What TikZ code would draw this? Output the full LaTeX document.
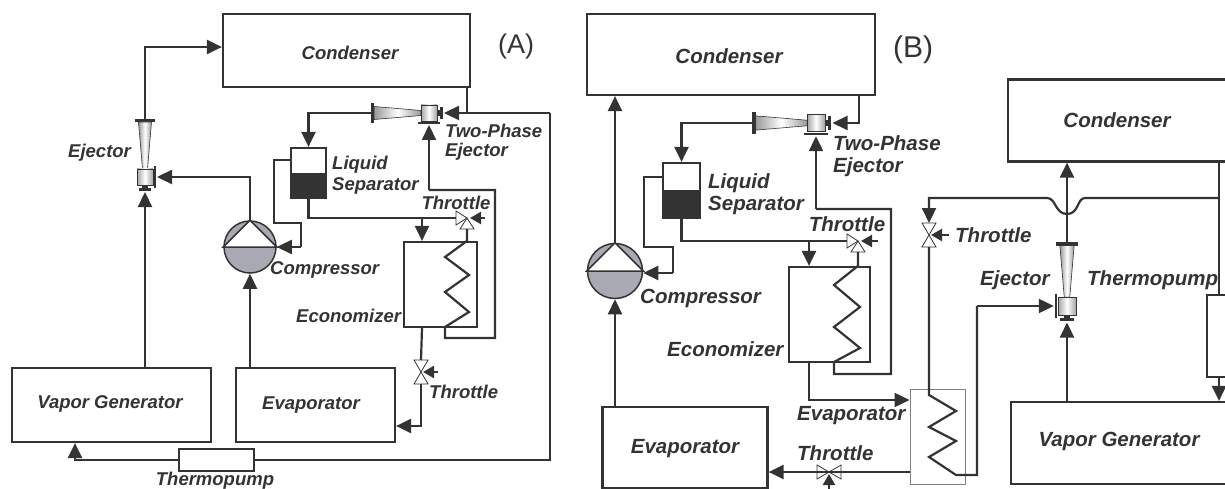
\documentclass[tikz,border=0pt]{standalone}
\usepackage{fontspec}
\setmainfont{Liberation Sans}
\usetikzlibrary{arrows.meta}
\definecolor{linecol}{HTML}{333333}
\definecolor{textcol}{HTML}{333333}
\definecolor{compcol}{HTML}{A9A9B3}
\tikzset{
  box/.style={draw=linecol,line width=2.2pt,rectangle,inner sep=0pt},
  hxbox/.style={draw=gray,line width=.9pt,rectangle,inner sep=0pt},
  compressor/.style={circle,draw=linecol,line width=1.5pt,fill=compcol,inner sep=0pt,minimum size=52pt},
  lbl/.style={font=\fontsize{18.5}{21}\selectfont\bfseries\itshape,text=textcol,inner sep=0pt},
  lblb/.style={font=\fontsize{20.5}{23}\selectfont\bfseries\itshape,text=textcol,inner sep=0pt},
  tag/.style={font=\fontsize{27}{30}\selectfont,text=textcol,inner sep=0pt},
  pipe/.style={draw=linecol,line width=2.2pt},
  flow/.style={pipe,-{Triangle[length=15pt,width=14pt]}},
  ctlflow/.style={pipe,-{Triangle[length=11pt,width=12pt]}},
  vtri/.style={draw=linecol,line width=.8pt,fill=white},
  valve/.pic={
    \draw[vtri] (0,0) -- (-7,-12) -- (7,-12) -- cycle;
    \draw[vtri] (0,0) -- (-7,12) -- (7,12) -- cycle;
    \coordinate (-a) at (0,-12);
    \coordinate (-b) at (0,12);
  },
  tee/.pic={
    \draw[vtri] (0,0) -- (-11,-7) -- (-11,7) -- cycle;
    \draw[vtri] (0,0) -- (-7,11) -- (7,11) -- cycle;
    \coordinate (-left) at (-11,0);
    \coordinate (-down) at (0,11);
  },
  ejector/.pic={
    \fill[linecol] (-10,-58) rectangle (10,-55);
    \shade[left color=gray!80,right color=gray!80,middle color=white,draw=linecol,line width=.6pt]
      (-6.5,-55) -- (6.5,-55) -- (2.5,-8) -- (-2.5,-8) -- cycle;
    \shade[left color=gray!70,right color=gray!70,middle color=white,draw=linecol,line width=.6pt]
      (-8,-8) rectangle (8,8);
    \fill[linecol] (9,-11) rectangle (11,11);
    \fill[linecol] (-3,8) rectangle (3,11);
    \fill[linecol] (-6,11) rectangle (6,14);
    \coordinate (-out) at (0,-58);
    \coordinate (-in) at (0,15);
    \coordinate (-side) at (12,0);
  },
}
\begin{document}
\begin{tikzpicture}[x=1pt,y=-1pt]
    \useasboundingbox (0,0) rectangle (1225,489);
    \clip (0,0) rectangle (1225,489);

    % panel A
    \node[box,minimum width=247,minimum height=73] (condA) at (346.5,50.5) {};
    \node[box,minimum width=199,minimum height=74] (vgA) at (111.5,405) {};
    \node[box,minimum width=159,minimum height=74] (evapA) at (315.5,405) {};
    \node[box,minimum width=75,minimum height=22] (thermoA) at (216.5,460) {};
    \node[box,minimum width=73,minimum height=85] (econA) at (440.5,284.5) {};
    \node[box,minimum width=35,minimum height=50] (sepA) at (308.5,173) {};
    \fill[linecol] (sepA.west) rectangle (sepA.south east);
    \node[compressor] (compA) at (250,247) {};
    \pic (ejA) at (145,177) {ejector};
    \pic (tpA) [rotate=90,xscale=-1] at (429,113) {ejector};
    \pic (teeA) at (467,218) {tee};
    \pic (valveA) at (421,372) {valve};
    \coordinate (ctlA) at (485,218);
    \coordinate (ctlB) at (438,372);

    \draw[flow] (ejA-out) |- ([yshift=3.5pt]condA.west);
    \draw[flow] (145,0 |- vgA.north) -- (ejA-in);
    \draw[flow] (compA.north) |- (ejA-side);
    \draw[flow] (250,0 |- evapA.north) -- (compA.south);
    \draw[flow] (tpA-out) -| (sepA.north);
    \draw[pipe] (sepA.west |- 0,160) -- (274,160) -- (274,223) -- (301,223) -- (301,247);
    \draw[flow] (301,247) -- (compA.east);
    \draw[pipe] (sepA.south) |- (teeA-left);
    \draw[flow] (422,218) -- (422,0 |- econA.north);
    \draw[ctlflow] (ctlA) -- (470,218);
    \draw[pipe] (teeA-down) -- (467,0 |- econA.north) -- (445,257) -- (469,275) -- (445,292)
        -- (469,312) -- (445,327) -- (445,338) -- (495,338) -- (495,190) -- (429,190);
    \draw[flow] (429,190) -- (tpA-side);
    \draw[flow] (550,113) -- (tpA-in);
    \draw[pipe] (467,0 |- condA.south) -- (467,113);
    \draw[pipe] (thermoA.east) -- (550,460) -- (550,113);
    \draw[flow] (thermoA.west) -| (75,0 |- vgA.south);
    \draw[pipe] (422,0 |- econA.south) -- (valveA-a);
    \draw[ctlflow] (ctlB) -- (423,372);
    \draw[flow] (valveA-b) |- (evapA.east |- 0,426);

    \node[lbl] (condAt) at (350,53) {Condenser};
    \node[tag] (tagA) at (516,47) {(A)};
    \node[lbl,anchor=west] (ejAt) at (68,153) {Ejector};
    \node[lbl,anchor=west] (tpAt) at (445,131) {Two-Phase};
    \node[lbl,anchor=west] (tpAu) at (445,152) {Ejector};
    \node[lbl,anchor=west] (sepAt) at (332,165) {Liquid};
    \node[lbl,anchor=west] (sepAu) at (332,186) {Separator};
    \node[lbl] (teeAt) at (456,203) {Throttle};
    \node[lbl,anchor=west] (compAt) at (270,270) {Compressor};
    \node[lbl,anchor=west] (econAt) at (296,316) {Economizer};
    \node[lbl,anchor=west] (valveAt) at (429,392) {Throttle};
    \node[lbl] (vgAt) at (110,404) {Vapor Generator};
    \node[lbl] (evapAt) at (311,405) {Evaporator};
    \node[lbl] (thermoAt) at (215,481) {Thermopump};

    % panel B
    \node[box,minimum width=288,minimum height=81] (condB) at (731,54.5) {};
    \node[box,minimum width=81,minimum height=95] (econB) at (829.5,314.5) {};
    \node[box,minimum width=165,minimum height=81] (evapB) at (685,447.5) {};
    \node[box,minimum width=37,minimum height=55] (sepB) at (681.5,190.5) {};
    \fill[linecol] (sepB.west) rectangle (sepB.south east);
    \node[compressor,minimum size=55pt] (compB) at (615,271) {};
    \node[hxbox,minimum width=55,minimum height=95] (hxB) at (937.5,436.5) {};
    \node[box,minimum width=240,minimum height=82] (condC) at (1128,120.5) {};
    \node[box,minimum width=240,minimum height=82] (vgB) at (1131,443) {};
    \node[box,minimum width=38,minimum height=82] (thermoB) at (1226,336) {};
    \pic (tpB) [rotate=90,xscale=-1,scale=1.1] at (816,123) {ejector};
    \pic (ejB) [xscale=-1,scale=1.1] at (1067,306) {ejector};
    \pic (teeB) at (858,241) {tee};
    \pic (valveB) at (929,235) {valve};
    \pic (valveC) [rotate=90] at (829,472) {valve};
    \coordinate (ctlC) at (878,241);
    \coordinate (ctlD) at (949,235);
    \coordinate (ctlE) at (829,495);

    \draw[flow] (compB.north) -- (615,0 |- condB.south);
    \draw[flow] (615,0 |- evapB.north) -- (compB.south);
    \draw[flow] (859,0 |- condB.south) |- (tpB-in);
    \draw[flow] (tpB-out) -| (sepB.north);
    \draw[pipe] (sepB.west |- 0,177) -- (644,177) -- (644,247) -- (673,247) -- (673,273);
    \draw[flow] (673,273) -- (compB.east |- 0,273);
    \draw[pipe] (sepB.south) |- (teeB-left);
    \draw[flow] (809,241) -- (809,0 |- econB.north);
    \draw[ctlflow] (ctlC) -- (861,241);
    \draw[pipe] (teeB-down) -- (858,0 |- econB.north) -- (834,285) -- (860,307) -- (834,327)
        -- (860,348) -- (834,362) -- (834,374) -- (891,374) -- (891,209) -- (816,209);
    \draw[flow] (816,209) -- (tpB-side);
    \draw[flow] (809,0 |- econB.south) |- (hxB.west |- 0,400);
    \draw[pipe] (valveB-b) -- (929,395) -- (956,411) -- (929,427) -- (956,441) -- (929,457)
        -- (956,475) -- (977,475) -- (977,306);
    \draw[flow] (977,306) -- (ejB-side);
    \draw[flow] (1067,0 |- vgB.north) -- (ejB-in);
    \draw[pipe] (ejB-out) -- (1067,214);
    \draw[flow] (1067,214) -- (1067,0 |- condC.south);
    \draw[flow] (1219,198) -- (1085,198) .. controls (1077,198) and (1079,214) .. (1067,214)
        .. controls (1055,214) and (1056,198) .. (1047,198) -- (929,198) -- (valveB-a);
    \draw[pipe] (1219,0 |- condC.south) -- (1219,0 |- thermoB.north);
    \draw[flow] (1219,0 |- thermoB.south) -- (1219,0 |- vgB.north);
    \draw[ctlflow] (ctlD) -- (931,235);
    \draw[pipe] (hxB.west |- 0,472) -- (valveC-a);
    \draw[flow] (valveC-b) -- (evapB.east |- 0,472);
    \draw[ctlflow] (ctlE) -- (829,474);

    \node[lblb] (condBt) at (729,56) {Condenser};
    \node[tag,font=\fontsize{30}{33}\selectfont] (tagB) at (913,50) {(B)};
    \node[lblb,anchor=west] (tpBt) at (833,143) {Two-Phase};
    \node[lblb,anchor=west] (tpBu) at (833,167) {Ejector};
    \node[lblb,anchor=west] (sepBt) at (708,183) {Liquid};
    \node[lblb,anchor=west] (sepBu) at (708,205) {Separator};
    \node[lblb] (teeBt) at (847,224) {Throttle};
    \node[lblb,anchor=west] (compBt) at (640,298) {Compressor};
    \node[lblb,anchor=west] (econBt) at (667,349) {Economizer};
    \node[lblb,anchor=west] (hxBt) at (797,416) {Evaporator};
    \node[lblb,anchor=west] (valveCt) at (797,453) {Throttle};
    \node[lblb] (evapBt) at (685,449) {Evaporator};
    \node[lblb,anchor=west] (valveBt) at (955,235) {Throttle};
    \node[lblb,anchor=west] (ejBt) at (980,280) {Ejector};
    \node[lblb,anchor=west] (thermoBt) at (1087,280) {Thermopump};
    \node[lblb] (vgBt) at (1119,441) {Vapor Generator};
    \node[lblb] (condCt) at (1117,120) {Condenser};

    % compressor triangles
    \foreach \c in {compA,compB} {
      \draw[draw=linecol,line width=1.5pt,fill=white] (\c.north) -- (\c.west) -- (\c.east) -- cycle;
    }
    \end{tikzpicture}
\end{document}
